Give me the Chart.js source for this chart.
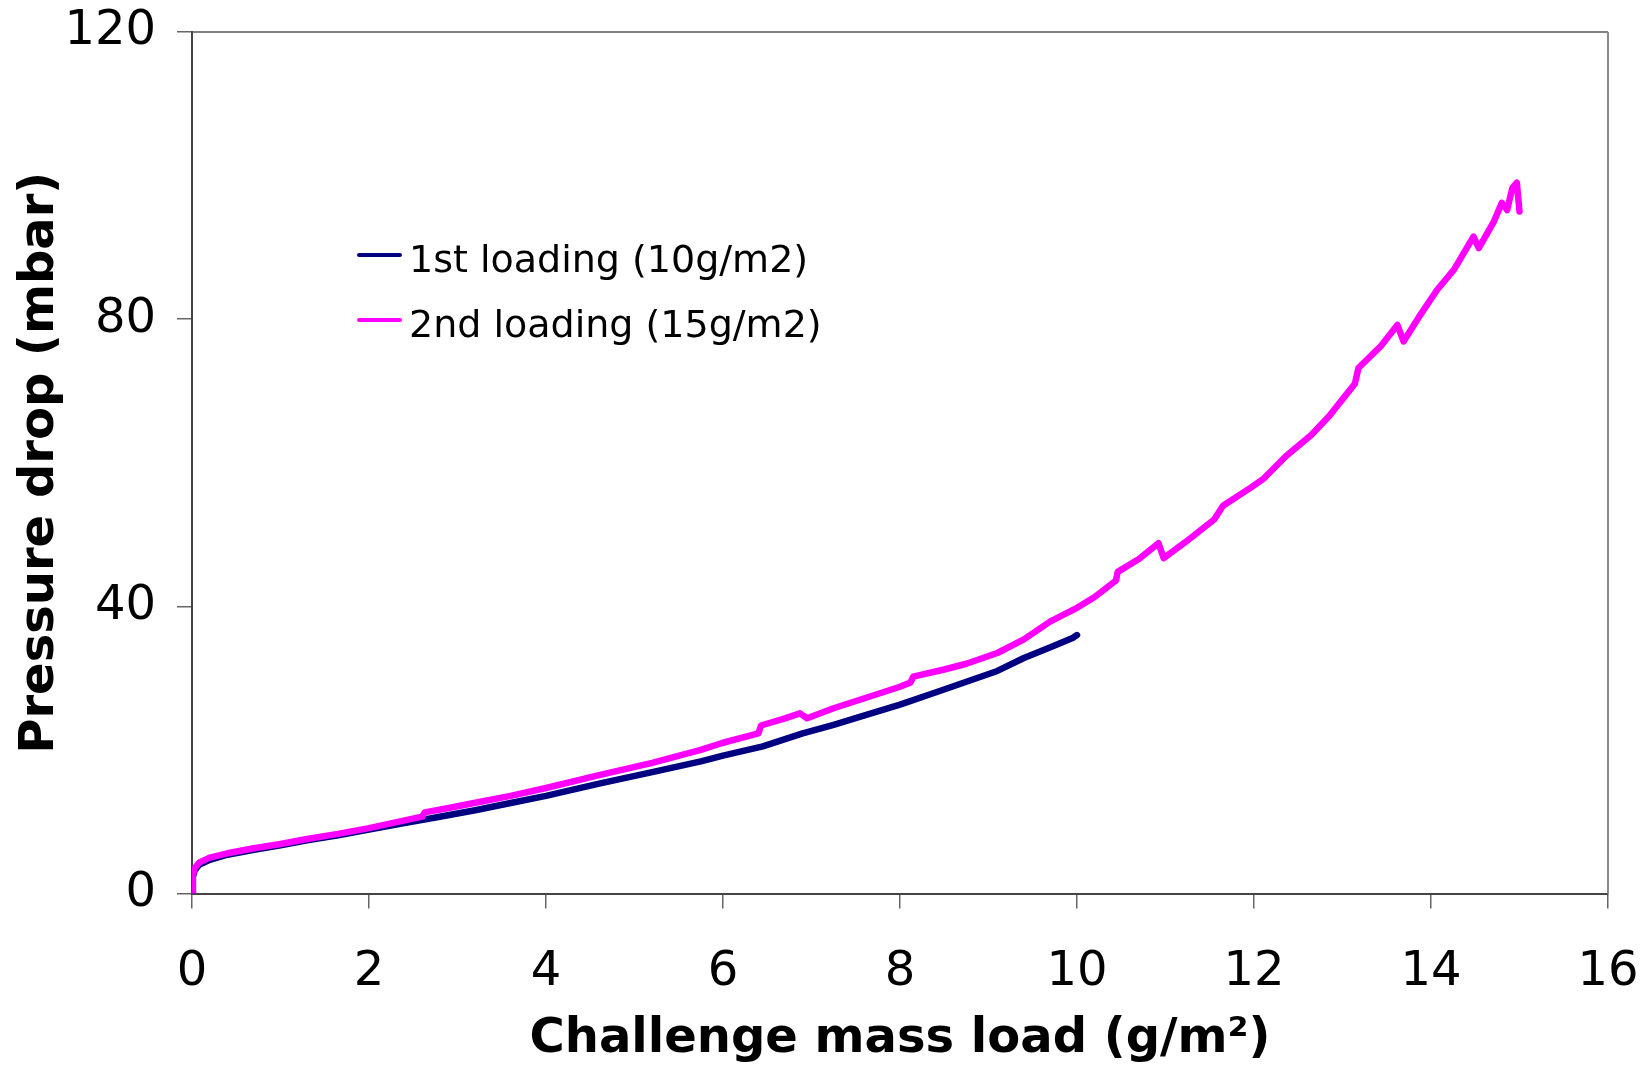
<!DOCTYPE html>
<html>
<head>
<meta charset="utf-8">
<script src="https://cdn.jsdelivr.net/npm/chart.js@4.4.1/dist/chart.umd.min.js"></script>
<style>
  html, body { margin: 0; padding: 0; background: #ffffff; }
  #wrap { position: relative; width: 1641px; height: 1068px; overflow: hidden; }
  canvas { display: block; }
  .lg-line { position: absolute; width: 45px; height: 4px; border-radius: 2px; }
  .lg-text { position: absolute; font-family: "DejaVu Sans", sans-serif; font-size: 38px; line-height: 38px; color: #000; white-space: nowrap; }
</style>
</head>
<body>
<div id="wrap">
  <canvas id="c" width="1641" height="1068"></canvas>
  <div id="legend"></div>
</div>
<script>
// ---- data ----
const seriesNames = ["1st loading (10g/m2)", "2nd loading (15g/m2)"];
const seriesColors = ["#000080", "#FF00FF"];

const load1X = [0, 0.01, 0.03, 0.08, 0.2, 0.4, 0.7, 1.0, 1.3, 1.65, 2.0, 2.4, 2.8, 3.2, 3.6, 4.0, 4.6, 5.2, 5.75, 6.0, 6.45, 6.9, 7.25, 7.6, 8.0, 8.4, 8.75, 9.1, 9.4, 9.7, 9.95, 10.0];
const load1Y = [0, 2.3, 3.2, 4.0, 4.7, 5.4, 6.1, 6.7, 7.4, 8.1, 8.9, 9.8, 10.7, 11.6, 12.6, 13.6, 15.3, 16.9, 18.4, 19.2, 20.5, 22.3, 23.5, 24.8, 26.3, 28.0, 29.5, 31.0, 32.8, 34.3, 35.6, 36.0];

const load2X = [0, 0.01, 0.03, 0.08, 0.2, 0.4, 0.7, 1.0, 1.3, 1.65, 2.0, 2.3, 2.6, 2.63, 2.9, 3.1, 3.6, 4.0, 4.6, 5.2, 5.75, 6.0, 6.4, 6.43, 6.7, 6.87, 6.95, 7.25, 7.6, 8.0, 8.12, 8.15, 8.5, 8.75, 9.1, 9.4, 9.7, 10.0, 10.2, 10.44, 10.46, 10.7, 10.92, 10.98, 11.22, 11.55, 11.65, 11.96, 12.11, 12.36, 12.65, 12.85, 13.01, 13.14, 13.18, 13.43, 13.62, 13.69, 13.88, 14.07, 14.26, 14.48, 14.54, 14.71, 14.8, 14.86, 14.92, 14.97, 15.0];
const load2Y = [0, 2.6, 3.5, 4.3, 5.0, 5.6, 6.3, 6.9, 7.6, 8.3, 9.1, 9.9, 10.7, 11.3, 11.9, 12.4, 13.6, 14.7, 16.5, 18.2, 20.0, 21.0, 22.3, 23.4, 24.4, 25.1, 24.4, 25.8, 27.2, 28.8, 29.4, 30.2, 31.2, 32.0, 33.5, 35.4, 37.9, 39.8, 41.3, 43.6, 44.8, 46.6, 48.8, 46.7, 48.9, 52.1, 54.0, 56.5, 57.8, 60.9, 63.9, 66.5, 69.0, 71.0, 73.2, 76.2, 79.2, 76.9, 80.6, 84.1, 86.9, 91.5, 89.9, 93.6, 96.2, 95.2, 98.3, 99.0, 95.0];

const xTicks = [0, 2, 4, 6, 8, 10, 12, 14, 16];
const yTicks = [0, 40, 80, 120];
const xTitle = "Challenge mass load (g/m\u00B2)";
const yTitle = "Pressure drop (mbar)";

// ---- legend (HTML text) ----
const legend = document.getElementById('legend');
seriesNames.forEach((name, i) => {
  const line = document.createElement('div');
  line.className = 'lg-line';
  line.style.left = '357px';
  line.style.top = (253 + i * 65) + 'px';
  line.style.background = seriesColors[i];
  legend.appendChild(line);
  const txt = document.createElement('div');
  txt.className = 'lg-text';
  txt.style.left = '409px';
  txt.style.top = (240 + i * 65) + 'px';
  txt.textContent = name;
  legend.appendChild(txt);
});

// ---- chart ----
const toPts = (xs, ys) => xs.map((x, i) => ({ x: x, y: ys[i] }));

const framePlugin = {
  id: 'frame',
  beforeDatasetsDraw(chart) {
    const { ctx, chartArea: a } = chart;
    ctx.save();
    ctx.lineWidth = 1.5;
    ctx.strokeStyle = '#555555';
    ctx.beginPath();
    ctx.moveTo(a.left, a.top);
    ctx.lineTo(a.right, a.top);
    ctx.stroke();
    ctx.strokeStyle = '#8a8a8a';
    ctx.lineWidth = 2;
    ctx.beginPath();
    ctx.moveTo(a.right, a.top);
    ctx.lineTo(a.right, a.bottom);
    ctx.stroke();
    ctx.restore();
  }
};

const zeroPad = s => { s.paddingTop = 0; s.paddingBottom = 0; s.paddingLeft = 0; s.paddingRight = 0; };

const tickFont = { family: '"DejaVu Sans", sans-serif', size: 48, lineHeight: 1.2 };
const titleFont = { family: '"DejaVu Sans", sans-serif', size: 48, weight: 'bold', lineHeight: 1.2 };

new Chart(document.getElementById('c'), {
  type: 'scatter',
  data: {
    datasets: [
      {
        label: seriesNames[0],
        data: toPts(load1X, load1Y),
        showLine: true,
        borderColor: seriesColors[0],
        backgroundColor: seriesColors[0],
        borderWidth: 6.5,
        pointRadius: 0,
        tension: 0,
        borderCapStyle: 'round',
        borderJoinStyle: 'round',
        order: 2
      },
      {
        label: seriesNames[1],
        data: toPts(load2X, load2Y),
        showLine: true,
        borderColor: seriesColors[1],
        backgroundColor: seriesColors[1],
        borderWidth: 6.5,
        pointRadius: 0,
        tension: 0,
        borderCapStyle: 'round',
        borderJoinStyle: 'round',
        order: 1
      }
    ]
  },
  options: {
    responsive: false,
    animation: false,
    events: [],
    layout: { padding: { top: 32, right: 33, left: 0, bottom: 0 } },
    plugins: { legend: { display: false }, tooltip: { enabled: false } },
    scales: {
      x: {
        type: 'linear',
        min: 0, max: 16,
        afterBuildTicks: s => { s.ticks = xTicks.map(v => ({ value: v })); },
        afterFit: s => { s.height = 174.5; zeroPad(s); },
        ticks: { font: tickFont, color: '#000', padding: 35, maxRotation: 0, autoSkip: false },
        grid: { drawOnChartArea: false, drawTicks: true, tickLength: 15, color: '#666666', lineWidth: 1.5 },
        border: { display: true, color: '#444444', width: 2 },
        title: { display: true, text: xTitle, font: titleFont, color: '#000', padding: { top: 0, bottom: 0 } }
      },
      y: {
        type: 'linear',
        min: 0, max: 120,
        afterBuildTicks: s => { s.ticks = yTicks.map(v => ({ value: v })); },
        afterFit: s => { s.width = 192; zeroPad(s); },
        ticks: { font: tickFont, color: '#000', padding: 21, autoSkip: false },
        grid: { drawOnChartArea: false, drawTicks: true, tickLength: 15, color: '#666666', lineWidth: 1.5 },
        border: { display: true, color: '#444444', width: 2 },
        title: { display: true, text: yTitle, font: titleFont, color: '#000', padding: { top: 12, bottom: 0 } }
      }
    }
  },
  plugins: [framePlugin]
});
</script>
</body>
</html>
